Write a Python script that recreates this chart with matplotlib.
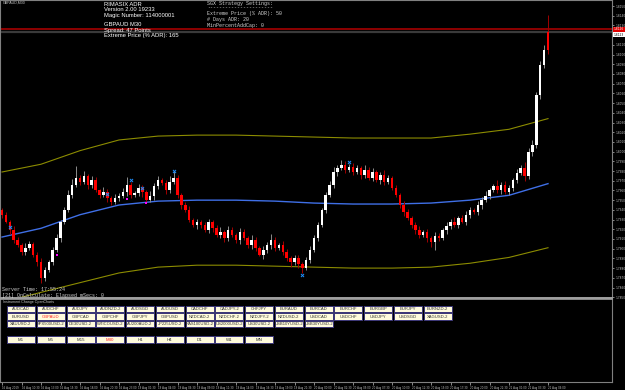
import matplotlib
matplotlib.use('Agg')
import matplotlib.pyplot as plt
from matplotlib.patches import Rectangle
import matplotlib.transforms as mtransforms
import numpy as np

# ---------------- data ----------------
closes = [
    1.7935, 1.7928, 1.7919, 1.7909, 1.7904, 1.7897, 1.7901, 1.7905, 1.7894, 1.7886,
    1.7870, 1.7878, 1.7886, 1.7899, 1.7911, 1.7928, 1.7940, 1.7955, 1.7966, 1.7973,
    1.7969, 1.7975, 1.7966, 1.7971, 1.7960, 1.7955, 1.7958, 1.7952, 1.7948, 1.7952,
    1.7954, 1.7958, 1.7966, 1.7955, 1.7957, 1.7963, 1.7958, 1.7950, 1.7954, 1.7965,
    1.7971, 1.7968, 1.7960, 1.7969, 1.7973, 1.7955, 1.7945, 1.7940, 1.7930, 1.7924,
    1.7928, 1.7924, 1.7919, 1.7928, 1.7921, 1.7914, 1.7917, 1.7911, 1.7919, 1.7914,
    1.7909, 1.7917, 1.7911, 1.7904, 1.7909, 1.7901, 1.7894, 1.7899, 1.7904, 1.7909,
    1.7901, 1.7904, 1.7897, 1.7890, 1.7886, 1.7890, 1.7884, 1.7880, 1.7888, 1.7899,
    1.7911, 1.7924, 1.7940, 1.7955, 1.7966, 1.7979, 1.7983, 1.7986, 1.7981, 1.7984,
    1.7979, 1.7983, 1.7976, 1.7981, 1.7973, 1.7979, 1.7971, 1.7976, 1.7969, 1.7973,
    1.7963, 1.7955, 1.7945, 1.7938, 1.7932, 1.7924, 1.7919, 1.7914, 1.7917, 1.7911,
    1.7907, 1.7913, 1.7911, 1.7919, 1.7923, 1.7928, 1.7924, 1.7932, 1.7928, 1.7935,
    1.7940, 1.7938, 1.7945, 1.7950, 1.7954, 1.7960, 1.7965, 1.7960, 1.7966, 1.7958,
    1.7963, 1.7971, 1.7978, 1.7983, 1.7975, 1.8000, 1.8007, 1.8058, 1.8089, 1.8105,
    1.8123,
]
first_open = 1.7940
up_wick_pips = [
    2, 3, 2, 4, 3, 2, 5, 3, 2, 3,
    4, 3, 2, 3, 4, 2, 3, 5, 6, 12,
    3, 5, 2, 4, 3, 2, 6, 3, 2, 4,
    3, 5, 8, 3, 2, 4, 3, 2, 5, 3,
    4, 2, 3, 6, 7, 3, 2, 3, 4, 2,
    3, 2, 4, 3, 2, 3, 5, 2, 4, 3,
    2, 4, 3, 2, 5, 3, 2, 4, 3, 6,
    3, 2, 4, 3, 2, 3, 4, 2, 3, 4,
    3, 4, 2, 3, 4, 5, 3, 5, 4, 3,
    4, 3, 2, 5, 3, 4, 2, 3, 5, 3,
    2, 3, 2, 4, 3, 2, 3, 4, 2, 3,
    2, 4, 3, 2, 4, 3, 5, 2, 3, 4,
    3, 2, 4, 3, 5, 3, 2, 6, 3, 4,
    3, 2, 4, 3, 6, 4, 5, 3, 4, 5,
    18,
]
low_wick_pips = [
    3, 2, 4, 3, 2, 4, 3, 2, 3, 4,
    5, 3, 2, 3, 2, 4, 3, 2, 3, 2,
    3, 2, 4, 3, 2, 3, 2, 4, 3, 2,
    3, 2, 4, 3, 2, 3, 5, 3, 2, 4,
    3, 2, 4, 3, 2, 3, 4, 2, 3, 2,
    4, 3, 2, 3, 4, 2, 3, 4, 3, 2,
    3, 4, 2, 3, 4, 3, 2, 5, 3, 4,
    3, 2, 4, 3, 5, 3, 4, 5, 2, 3,
    2, 3, 2, 3, 2, 3, 4, 2, 3, 2,
    3, 2, 4, 3, 2, 3, 2, 4, 3, 2,
    3, 2, 3, 4, 2, 3, 4, 3, 2, 4,
    5, 8, 3, 2, 4, 3, 2, 3, 2, 4,
    3, 2, 3, 4, 2, 3, 2, 3, 4, 2,
    3, 4, 3, 2, 5, 3, 4, 3, 4, 3,
    4,
]
forced_red_bars = [140]
PIP = 0.0001

line_idx = [0, 10, 20, 30, 40, 50, 60, 70, 80, 90, 100, 110, 120, 130, 140]
ma_values = [1.7912, 1.7921, 1.7935, 1.7945, 1.7949, 1.7950, 1.7950, 1.7949,
             1.7947, 1.7946, 1.7946, 1.7947, 1.7950, 1.7955, 1.7967]
upper_band = [1.7979, 1.7987, 1.8001, 1.8012, 1.8016, 1.8017, 1.8017, 1.8016,
              1.8015, 1.8014, 1.8014, 1.8014, 1.8018, 1.8023, 1.8034]
lower_band = [1.7845, 1.7855, 1.7865, 1.7875, 1.7881, 1.7883, 1.7883, 1.7882,
              1.7881, 1.7880, 1.7880, 1.7881, 1.7885, 1.7891, 1.7901]

sell_idx = [2, 27, 33, 36, 44, 77, 89]
sell_price = [1.7922, 1.7956, 1.7971, 1.7963, 1.7980, 1.7873, 1.7989]
buy_idx = [14, 32, 37]
buy_price = [1.7893, 1.7951, 1.7947]

ask_price = 1.8126
bid_price = 1.8123

price_ticks = [1.7850, 1.7860, 1.7870, 1.7880, 1.7890, 1.7900, 1.7910, 1.7920,
               1.7930, 1.7940, 1.7950, 1.7960, 1.7970, 1.7980, 1.7990, 1.8000,
               1.8010, 1.8020, 1.8030, 1.8040, 1.8050, 1.8060, 1.8070, 1.8080,
               1.8090, 1.8100, 1.8110, 1.8120, 1.8130, 1.8140, 1.8150]
price_tick_labels = ['%.4f' % p for p in price_ticks]

time_idx = [0, 5, 10, 15, 20, 25, 30, 35, 40, 45, 50, 55, 60, 65, 70, 75, 80,
            85, 90, 95, 100, 105, 110, 115, 120, 125, 130, 135, 140]
time_labels = ['16 Aug 2019', '16 Aug 10:30', '16 Aug 13:00', '16 Aug 15:30',
               '16 Aug 18:00', '16 Aug 20:30', '16 Aug 23:00', '19 Aug 01:30',
               '19 Aug 04:00', '19 Aug 06:30', '19 Aug 09:00', '19 Aug 11:30',
               '19 Aug 14:00', '19 Aug 16:30', '19 Aug 19:00', '19 Aug 21:30',
               '20 Aug 00:00', '20 Aug 02:30', '20 Aug 05:00', '20 Aug 07:30',
               '20 Aug 10:00', '20 Aug 12:30', '20 Aug 15:00', '20 Aug 17:30',
               '20 Aug 20:00', '20 Aug 22:30', '21 Aug 01:00', '21 Aug 03:30',
               '21 Aug 06:00']

symbol_rows = [
    ['AUDCAD', 'AUDCHF', 'AUDJPY', 'AUDNZD-2', 'AUDSGD', 'AUDUSD', 'CADCHF',
     'CADJPY-2', 'CHFJPY', 'EURAUD', 'EURCAD', 'EURCHF', 'EURGBP', 'EURJPY', 'EURNZD-2'],
    ['EURUSD', 'GBPAUD', 'GBPCAD', 'GBPCHF', 'GBPJPY', 'GBPUSD', 'NZDCAD-2',
     'NZDCHF-2', 'NZDJPY-2', 'NZDUSD-2', 'USDCAD', 'USDCHF', 'USDJPY', 'USDSGD', 'XAGUSD-2'],
    ['XAUUSD-2', 'SPX500USD-2', 'DE30USD-2', 'WTICOUSD-2', 'AU200AUD-2', 'JP225USD-2',
     'NAS100USD-2', 'US2000USD-2', 'US30USD-2', 'USB10YUSD-2', 'USB30YUSD-2'],
]
timeframes = ['M1', 'M5', 'M15', 'M30', 'H1', 'H4', 'D1', 'W1', 'MN']
active_symbol = 'GBPAUD'
active_tf = 'M30'

info_lines = ['RIMASIX ADR', 'Version 2.00 19233', 'Magic Number: 114000001', '',
              'GBPAUD M30', 'Spread: 47 Points', 'Extreme Price (% ADR): 165']
settings_lines = ['SGX Strategy Settings:', '----------------------',
                  'Extreme Price (% ADR): 50', '# Days ADR: 20', 'MinPercentAddCap: 0']

# ---------------- figure ----------------
W, H = 625, 390
fig = plt.figure(figsize=(W / 100, H / 100), dpi=100, facecolor='black')

XL = (-2 / 3.9, (612 - 2) / 3.9)
ax = fig.add_axes([0, 1 - 298 / H, 612 / W, 298 / H], facecolor='black')
ax.set_xlim(*XL)
ax.set_ylim(1.78492, 1.81562)

n = len(closes)
x = np.arange(n)
c = np.array(closes)
o = np.array([first_open] + closes[:-1])
hi = np.maximum(o, c) + np.array(up_wick_pips) * PIP
lo = np.minimum(o, c) - np.array(low_wick_pips) * PIP
is_red = c < o
is_red[forced_red_bars] = True
body_col = np.where(is_red, '#FF0000', '#FFFFFF')
wick_col = np.where(is_red, '#A00000', '#8C8C8C')

ax.plot(line_idx, upper_band, color='#8C8C00', lw=0.8, zorder=1)
ax.plot(line_idx, lower_band, color='#8C8C00', lw=0.8, zorder=1)
ax.plot(line_idx, ma_values, color='#3F6FE6', lw=1.0, zorder=1)

ax.vlines(x, lo, hi, colors=wick_col, linewidth=0.7, zorder=2)
heights = np.maximum(np.abs(c - o), 0.00008)
ax.bar(x, heights, bottom=np.minimum(o, c), width=0.65, color=body_col,
       linewidth=0, zorder=3)

ax.scatter(sell_idx, sell_price, marker='x', s=5, color='#1E90FF',
           linewidths=0.7, zorder=4)
ax.scatter(buy_idx, buy_price, marker='s', s=2, color='#FF00FF',
           linewidths=0, zorder=4)

ax.axhline(bid_price, color='#3A3A3A', lw=1.6, zorder=0.5)
ax.axhline(ask_price, color='#B40000', lw=1.1, zorder=0.6)

ax.yaxis.tick_right()
ax.set_yticks(price_ticks)
ax.set_yticklabels(price_tick_labels)
ax.tick_params(axis='y', colors='#BEBEBE', labelsize=2.1, length=1.5, width=0.5,
               pad=0.8, direction='out')
ax.set_xticks([])
for s in ['left', 'right', 'top']:
    ax.spines[s].set_color('#808080')
    ax.spines[s].set_linewidth(0.8)
ax.spines['bottom'].set_color('#A0A0A0')
ax.spines['bottom'].set_linewidth(1.4)

trans = mtransforms.blended_transform_factory(ax.transAxes, ax.transData)
ax.text(1.003, ask_price, '%.4f' % ask_price, transform=trans, fontsize=2.1,
        color='white', va='center', ha='left', clip_on=False, zorder=6,
        bbox=dict(boxstyle='square,pad=0.2', fc='#E00000', ec='none'))
ax.text(1.003, bid_price - 0.00006, '%.4f' % bid_price, transform=trans, fontsize=2.1,
        color='black', va='top', ha='left', clip_on=False, zorder=6,
        bbox=dict(boxstyle='square,pad=0.2', fc='white', ec='none'))

# sub window
sub = fig.add_axes([0, 1 - 382 / H, 612 / W, 83 / H], facecolor='black')
sub.set_xlim(*XL)
sub.set_ylim(0, 1)
sub.set_yticks([])
sub.set_xticks(time_idx)
sub.set_xticklabels(time_labels)
sub.tick_params(axis='x', colors='#BEBEBE', labelsize=1.9, length=2, width=0.5,
                pad=0.8, direction='out')
for lbl in sub.get_xticklabels():
    lbl.set_ha('left')
for s in ['left', 'right', 'bottom']:
    sub.spines[s].set_color('#808080')
    sub.spines[s].set_linewidth(0.8)
sub.spines['top'].set_color('#A0A0A0')
sub.spines['top'].set_linewidth(1.2)

# overlay in pixel coordinates
ov = fig.add_axes([0, 0, 1, 1])
ov.set_xlim(0, W)
ov.set_ylim(H, 0)
ov.axis('off')
ov.patch.set_alpha(0)

ov.text(3, 3, 'GBPAUD,M30', fontsize=2.6, color='#C8C8C8', va='center',
        family='Liberation Sans')

ys = [4, 9.7, 15.4, 21, 24.5, 30.2, 36]
for t, yy in zip(info_lines, ys):
    if t:
        ov.text(104, yy, t, fontsize=4.2, color='white', va='center',
                family='Liberation Sans')

ys2 = [3.3, 7.6, 13.8, 19.4, 25]
for t, yy in zip(settings_lines, ys2):
    ov.text(207, yy, t, fontsize=3.6, color='#D0D0D0', va='center',
            family='Liberation Mono')

ov.text(2, 289.5, 'Server Time: 17:55:24', fontsize=3.6, color='#D0D0D0',
        va='center', family='Liberation Mono')
ov.text(2, 295.3, '[21] OnCalculate: Elapsed mSecs: 0', fontsize=3.6,
        color='#D0D0D0', va='center', family='Liberation Mono')
ov.text(3, 302.5, 'Instrument Change OpenCharts', fontsize=2.6, color='#C8C8C8',
        va='center', family='Liberation Sans')

row_tops = [305.6, 313.1, 320.6]
for r, row in enumerate(symbol_rows):
    for ci, name in enumerate(row):
        x0 = 7 + ci * 29.75
        y0 = row_tops[r]
        ov.add_patch(Rectangle((x0, y0), 28, 6.6, fc='#FFFBDC', ec='#3B3679', lw=0.7))
        ov.text(x0 + 14, y0 + 3.4, name, fontsize=3.0, ha='center', va='center',
                color='#FF2020' if name == active_symbol else '#303030',
                family='Liberation Sans')

for ci, tf in enumerate(timeframes):
    x0 = 7 + ci * 29.75
    y0 = 336
    ov.add_patch(Rectangle((x0, y0), 28, 7, fc='#FFFBDC', ec='#3B3679', lw=0.7))
    ov.text(x0 + 14, y0 + 3.6, tf, fontsize=3.2, ha='center', va='center',
            color='#FF2020' if tf == active_tf else '#303030',
            family='Liberation Sans')

fig.savefig('out.png', dpi=100, facecolor='black')
